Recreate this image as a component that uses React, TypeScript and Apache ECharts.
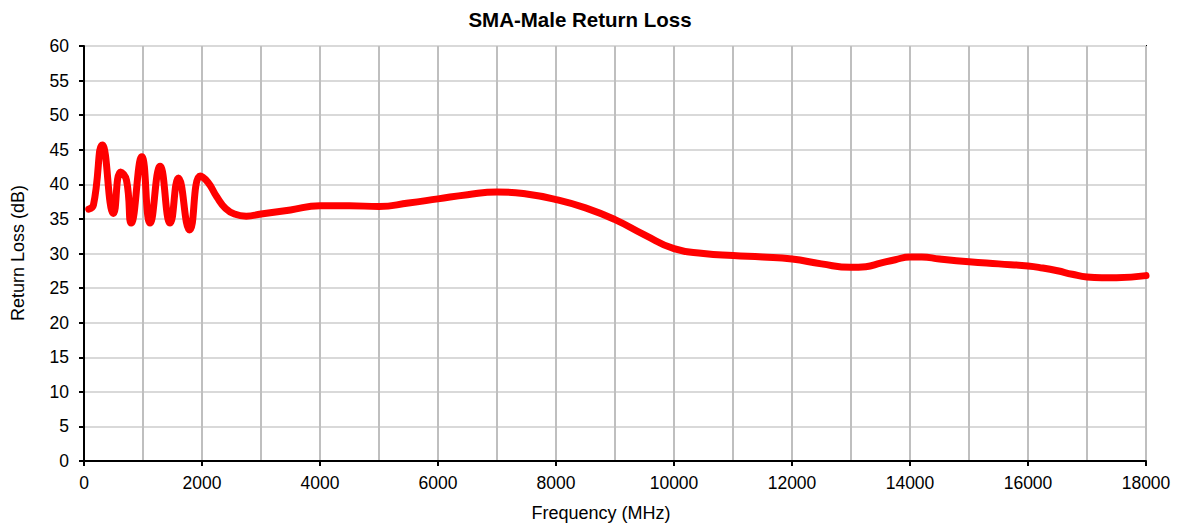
import React, { useEffect, useRef } from "react";
import * as echarts from "echarts";

const freqMHz = [
  80, 160, 310, 500, 620, 720, 800, 980, 1120, 1290, 1460, 1600, 1790, 1970,
  2100, 2250, 2400, 2550, 2750, 3000, 3500, 4000, 4500, 5000, 5500, 6000,
  6500, 7000, 7500, 8000, 8500, 9000, 9500, 10000, 10500, 11000, 11500,
  12000, 12500, 13000, 13250, 13500, 13750, 14000, 14200, 14500, 15000,
  15500, 16000, 16250, 16500, 16750, 17000, 17250, 17500, 18000,
];
const returnLossDb = [
  36.4, 37.0, 45.7, 35.8, 41.8, 40.6, 34.4, 44.0, 34.4, 42.6, 34.4, 40.9,
  33.4, 41.2, 40.3, 38.2, 36.5, 35.7, 35.4, 35.7, 36.3, 36.9, 36.9, 36.8,
  37.3, 37.9, 38.5, 38.9, 38.6, 37.8, 36.6, 34.9, 32.7, 30.7, 30.0, 29.7,
  29.5, 29.2, 28.5, 28.0, 28.1, 28.6, 29.1, 29.5, 29.5, 29.2, 28.8, 28.5,
  28.2, 27.9, 27.5, 27.0, 26.6, 26.5, 26.5, 26.8,
];

const titleText = "SMA-Male Return Loss";
const xAxisTitle = "Frequency (MHz)";
const yAxisTitle = "Return Loss (dB)";

export default function App() {
  const ref = useRef<HTMLDivElement>(null);
  useEffect(() => {
    document.body.style.margin = "0";
    const chart = echarts.init(ref.current!, null, { renderer: "svg" });
    const font = "Liberation Sans, Arial, sans-serif";
    chart.setOption({
      animation: false,
      backgroundColor: "#fff",
      grid: {
        left: 84,
        right: 31,
        top: 46,
        bottom: 64,
        show: true,
        borderColor: "#000",
        borderWidth: 2,
        backgroundColor: "transparent",
      },
      graphic: [
        {
          type: "text",
          x: 580,
          y: 19,
          style: {
            text: titleText,
            font: `bold 20.5px ${font}`,
            fill: "#000",
            textAlign: "center",
            textVerticalAlign: "middle",
          },
        },
        {
          type: "text",
          x: 601,
          y: 513,
          style: {
            text: xAxisTitle,
            font: `18px ${font}`,
            fill: "#000",
            textAlign: "center",
            textVerticalAlign: "middle",
          },
        },
        {
          type: "text",
          x: 18,
          y: 253,
          rotation: Math.PI / 2,
          style: {
            text: yAxisTitle,
            font: `18px ${font}`,
            fill: "#000",
            textAlign: "center",
            textVerticalAlign: "middle",
          },
        },
      ],
      xAxis: {
        type: "value",
        min: 0,
        max: 18000,
        interval: 2000,
        axisLine: { show: true, lineStyle: { color: "#000", width: 2 } },
        axisTick: { show: true, length: 5, lineStyle: { color: "#000", width: 2 } },
        axisLabel: {
          color: "#000",
          fontSize: 17.5,
          fontFamily: font,
          margin: 13,
          formatter: (v: number) => String(v),
        },
        splitLine: { show: true, lineStyle: { color: "#BFBFBF", width: 2 } },
        minorTick: { show: false, splitNumber: 2 },
        minorSplitLine: { show: true, lineStyle: { color: "#BFBFBF", width: 2 } },
      },
      yAxis: {
        type: "value",
        min: 0,
        max: 60,
        interval: 5,
        axisLine: { show: true, lineStyle: { color: "#000", width: 2 } },
        axisTick: { show: true, length: 5, lineStyle: { color: "#000", width: 2 } },
        axisLabel: { color: "#000", fontSize: 17.5, fontFamily: font, margin: 15 },
        splitLine: { show: true, lineStyle: { color: "#D9D9D9", width: 2 } },
      },
      series: [
        {
          type: "line",
          data: freqMHz.map((f, i) => [f, returnLossDb[i]]),
          smooth: 0.5,
          showSymbol: false,
          symbol: "none",
          clip: false,
          lineStyle: { color: "#FF0000", width: 7, cap: "round", join: "round" },
        },
      ],
    });
    return () => chart.dispose();
  }, []);
  return <div ref={ref} style={{ width: 1177, height: 525 }} />;
}
